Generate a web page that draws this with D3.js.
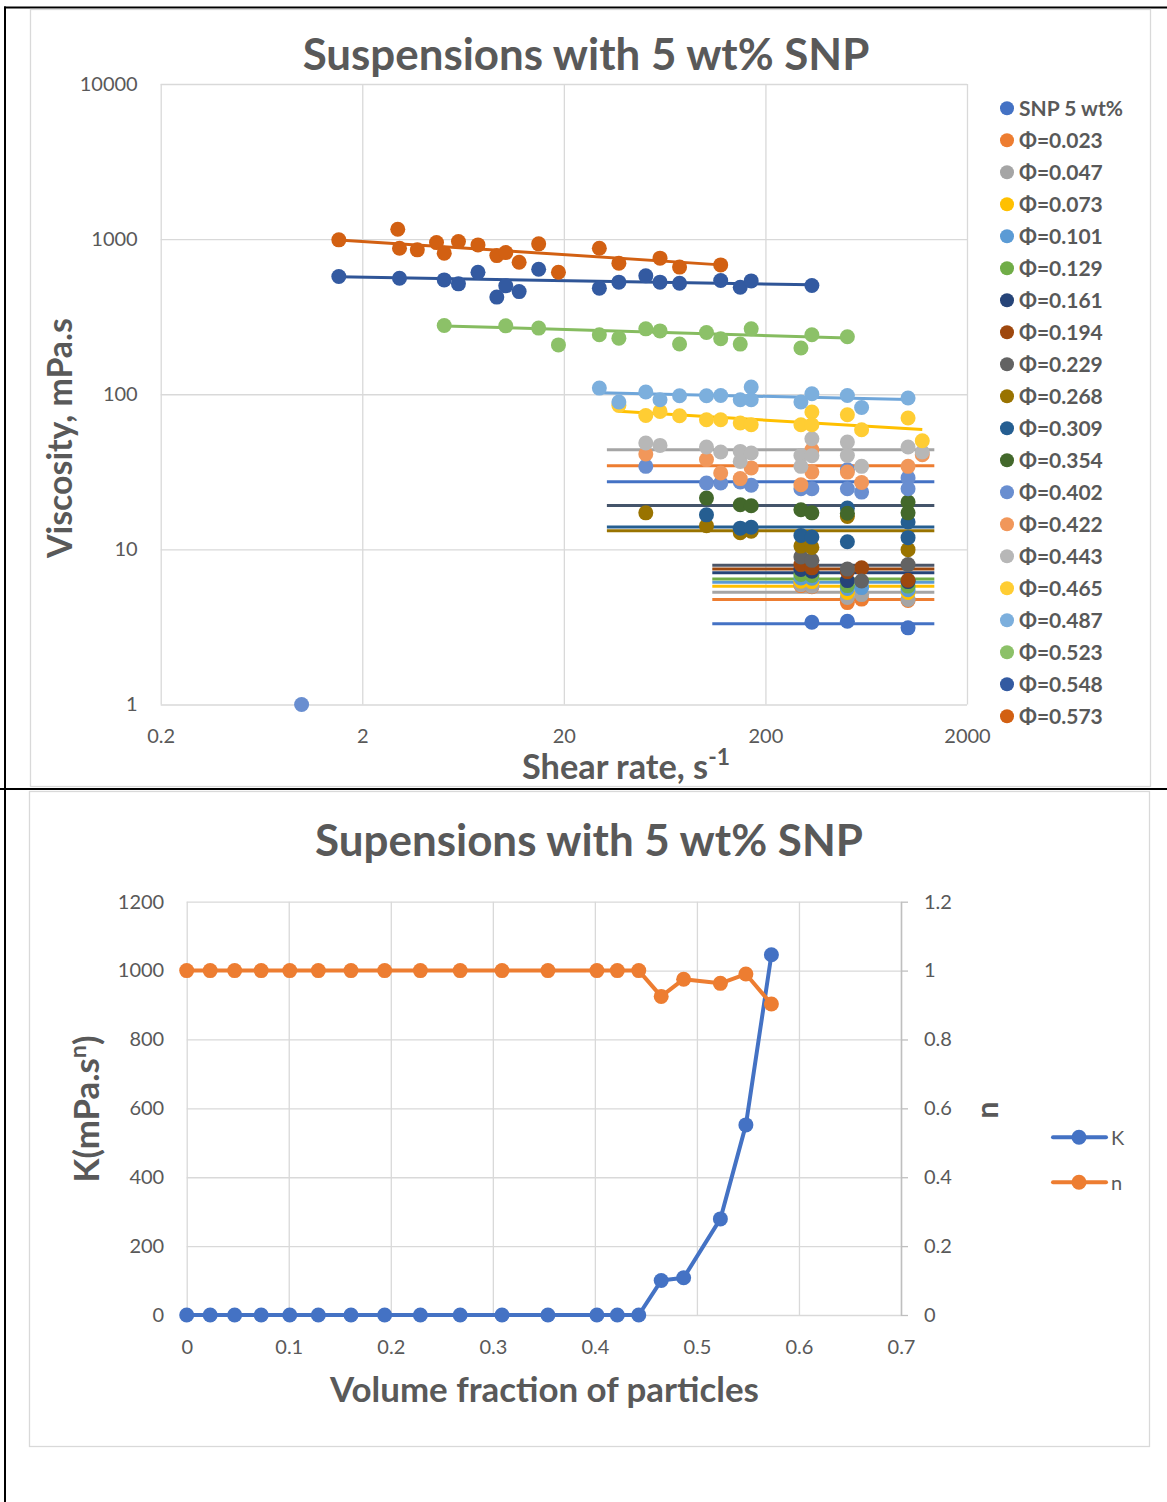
<!DOCTYPE html>
<html>
<head>
<meta charset="utf-8">
<script src="https://cdn.jsdelivr.net/npm/d3@7"></script>
<style>
  body { margin: 0; background: #fff; }
  svg { display: block; }
</style>
</head>
<body>
<svg id="chart" width="1167" height="1502"></svg>
<script>
// ---------------- Viscosity curves: [shear rate (1/s), viscosity (mPa.s)] ----------------
const snp5wt = [[340, 3.39], [510, 3.44], [1020, 3.12]];
const phi023 = [[300, 5.84], [340, 5.75], [510, 4.54], [600, 4.78], [1020, 4.68]];
const phi047 = [[300, 5.93], [340, 5.78], [510, 4.89], [600, 5.11], [1020, 4.75]];
const phi073 = [[300, 6.23], [340, 6.20], [510, 5.27], [1020, 5.27]];
const phi101 = [[300, 6.55], [340, 6.51], [510, 5.59], [600, 5.67], [1020, 5.50]];
const phi129 = [[300, 6.88], [340, 6.78], [510, 5.84], [1020, 5.80]];
const phi161 = [[300, 7.41], [340, 7.22], [510, 6.29], [1020, 6.20]];
const phi194 = [[300, 7.98], [340, 7.60], [510, 7.19], [600, 7.60], [1020, 6.32]];
const phi229 = [[300, 8.94], [340, 8.50], [510, 7.46], [600, 6.25], [1020, 7.98]];
const phi268 = [[51, 17.2], [102, 14.2], [150, 12.8], [170, 13.1], [300, 10.5], [340, 10.3], [510, 16.3], [1020, 9.96]];
const phi309 = [[102, 16.7], [150, 13.7], [170, 13.9], [300, 12.3], [340, 12.0], [510, 18.5], [510, 11.2], [1020, 15.0], [1020, 11.9]];
const phi354 = [[102, 21.4], [150, 19.4], [170, 19.1], [300, 18.0], [340, 17.2], [510, 17.1], [1020, 20.2], [1020, 17.2]];
const phi402 = [[1, 1], [51, 34.3], [102, 26.8], [120, 26.8], [150, 27.2], [170, 25.9], [300, 24.6], [340, 24.6], [510, 32.6], [510, 24.6], [600, 23.4], [1020, 28.9], [1020, 24.6]];
const phi422 = [[51, 41.2], [102, 37.9], [120, 31.1], [150, 28.6], [170, 33.5], [300, 26.1], [340, 43.9], [340, 31.5], [510, 31.5], [600, 27.0], [1020, 34.3], [1200, 40.8]];
const phi443 = [[51, 48.5], [60, 46.8], [102, 45.7], [120, 42.4], [150, 42.8], [150, 36.9], [170, 41.8], [300, 40.3], [300, 34.3], [340, 51.7], [340, 40.1], [510, 49.2], [510, 40.3], [600, 34.3], [1020, 45.7], [1200, 42.4]];
const phi465 = [[37.5, 84.7], [51, 73.0], [60, 77.5], [75, 72.7], [102, 68.5], [120, 68.5], [150, 65.2], [170, 63.6], [300, 63.6], [340, 76.8], [340, 63.6], [510, 73.8], [600, 59.1], [1020, 70.3], [1200, 50.2]];
const phi487 = [[30, 109.6], [37.5, 89.1], [51, 103.3], [60, 92.2], [75, 97.8], [102, 97.8], [120, 98.2], [150, 92.2], [170, 111.3], [170, 92.2], [300, 89.1], [340, 100.7], [510, 98.2], [600, 82.2], [1020, 94.5]];
const phi523 = [[5.1, 277.5], [10.3, 276], [15, 267], [18.8, 208], [30, 242], [37.5, 230], [51, 264], [60, 256], [75, 211], [102, 250], [120, 228], [150, 210.6], [170, 264], [300, 198.5], [340, 242], [510, 235]];
const phi548 = [[1.53, 574], [3.06, 560], [5.1, 546], [6.0, 515], [7.5, 612], [9.3, 423], [10.3, 500], [12, 459], [15, 640], [30, 483], [37.5, 528], [51, 580], [60, 528], [75, 520], [120, 541], [150, 490], [170, 538], [340, 502]];
const phi573 = [[1.53, 989], [3.0, 1159], [3.06, 874], [3.75, 853], [4.67, 950], [5.1, 812], [6.0, 964], [7.5, 918], [9.3, 783], [10.3, 819], [12, 710], [15, 932], [18.8, 612], [30, 874], [37.5, 700], [60, 754], [75, 660], [120, 682]];

const seriesNames = ["SNP 5 wt%", "Φ=0.023", "Φ=0.047", "Φ=0.073", "Φ=0.101", "Φ=0.129", "Φ=0.161",
  "Φ=0.194", "Φ=0.229", "Φ=0.268", "Φ=0.309", "Φ=0.354", "Φ=0.402", "Φ=0.422", "Φ=0.443",
  "Φ=0.465", "Φ=0.487", "Φ=0.523", "Φ=0.548", "Φ=0.573"];
const seriesData = [snp5wt, phi023, phi047, phi073, phi101, phi129, phi161, phi194, phi229, phi268,
  phi309, phi354, phi402, phi422, phi443, phi465, phi487, phi523, phi548, phi573];

// Power-law fits  eta = K * rate^(n-1), drawn over [fitFrom, fitTo]
const fitK    = [3.32, 4.75, 5.29, 5.78, 6.13, 6.45, 7.08, 7.48, 7.89, 13.2, 13.95, 19.2, 27.3, 34.6, 43.9, 102.9, 112.9, 294, 577, 1025];
const fitN    = [1, 1, 1, 1, 1, 1, 1, 1, 1, 1, 1, 1, 1, 1, 1, 0.922, 0.971, 0.961, 0.978, 0.915];
const fitFrom = [109, 109, 109, 109, 109, 109, 109, 109, 109, 32.7, 32.7, 32.7, 32.7, 32.7, 32.7, 37.5, 30, 5.1, 1.53, 1.53];
const fitTo   = [1377, 1377, 1377, 1377, 1377, 1377, 1377, 1377, 1377, 1377, 1377, 1377, 1377, 1377, 1377, 1200, 1020, 510, 340, 120];

const shearTicks = [0.2, 2, 20, 200, 2000];
const shearTickLabels = ["0.2", "2", "20", "200", "2000"];
const viscTicks = [1, 10, 100, 1000, 10000];
const viscTickLabels = ["1", "10", "100", "1000", "10000"];

// ---------------- Power-law parameters vs volume fraction ----------------
const volumeFraction = [0, 0.023, 0.047, 0.073, 0.101, 0.129, 0.161, 0.194, 0.229, 0.268, 0.309, 0.354, 0.402, 0.422, 0.443, 0.465, 0.487, 0.523, 0.548, 0.573];
const consistencyK = [0, 0, 0, 0, 0, 0, 0, 0, 0, 0, 0, 0, 0, 0, 0, 100, 108, 279, 552, 1046];
const flowIndexN = [1, 1, 1, 1, 1, 1, 1, 1, 1, 1, 1, 1, 1, 1, 1, 0.925, 0.975, 0.963, 0.99, 0.903];

const fracTicks = [0, 0.1, 0.2, 0.3, 0.4, 0.5, 0.6, 0.7];
const fracTickLabels = ["0", "0.1", "0.2", "0.3", "0.4", "0.5", "0.6", "0.7"];
const kTicks = [0, 200, 400, 600, 800, 1000, 1200];
const kTickLabels = ["0", "200", "400", "600", "800", "1000", "1200"];
const nTicks = [0, 0.2, 0.4, 0.6, 0.8, 1, 1.2];
const nTickLabels = ["0", "0.2", "0.4", "0.6", "0.8", "1", "1.2"];

// ---------------- Styling ----------------
const FONT = "Lato, 'Open Sans', 'DejaVu Sans', sans-serif";
const TEXT = "#595959";
const GRID = "#d9d9d9";
const markerColors = ["#4472C4", "#ED7D31", "#A5A5A5", "#FFC000", "#5B9BD5", "#70AD47", "#264478", "#9E480E", "#636363", "#997300",
  "#255E91", "#43682B", "#698ED0", "#F1975A", "#B7B7B7", "#FFCD33", "#7CAFDD", "#8CC168", "#335AA1", "#D26012"];
const fitColors = ["#4472C4", "#ED7D31", "#A5A5A5", "#FFC000", "#5B9BD5", "#70AD47", "#264478", "#9E480E", "#4B5567", "#997300",
  "#255E91", "#44546A", "#4472C4", "#ED7D31", "#A5A5A5", "#FFC000", "#6FA6DA", "#86BC60", "#2F5597", "#D26012"];

const svg = d3.select("#chart");
svg.append("rect").attr("width", 1167).attr("height", 1502).attr("fill", "#fff");

// scale a text (and any tspans in it) so that it spans the given width
function fitWidth(sel, width) {
  const k = width / sel.node().getComputedTextLength();
  sel.attr("font-size", parseFloat(sel.attr("font-size")) * k);
  sel.selectAll("tspan").each(function () {
    const t = d3.select(this);
    if (t.attr("font-size")) t.attr("font-size", parseFloat(t.attr("font-size")) * k);
    if (t.attr("dy")) t.attr("dy", parseFloat(t.attr("dy")) * k);
  });
}

// page frame
const frame = svg.append("g").attr("stroke", "#000").attr("stroke-width", 2);
frame.append("line").attr("x1", 4).attr("x2", 1167).attr("y1", 7.5).attr("y2", 7.5);
frame.append("line").attr("x1", 5).attr("x2", 5).attr("y1", 6.5).attr("y2", 1502);
frame.append("line").attr("x1", 0).attr("x2", 1167).attr("y1", 789).attr("y2", 789);

// chart boxes
svg.append("rect").attr("x", 30.5).attr("y", 9.5).attr("width", 1120).attr("height", 777)
  .attr("fill", "none").attr("stroke", GRID).attr("stroke-width", 1.3);
svg.append("rect").attr("x", 29.5).attr("y", 791.5).attr("width", 1120).attr("height", 655)
  .attr("fill", "none").attr("stroke", GRID).attr("stroke-width", 1.3);

// =============== Chart 1: viscosity vs shear rate ===============
const p1 = { left: 160.7, right: 967, top: 84, bottom: 704.5 };
const x1 = d3.scaleLog().domain([0.2, 2000]).range([p1.left, p1.right]);
const y1 = d3.scaleLog().domain([1, 10000]).range([p1.bottom, p1.top]);

function styleAxis(g, size) {
  g.attr("font-family", FONT).attr("font-size", size);
  g.selectAll(".tick line").attr("stroke", GRID).attr("stroke-width", 1.3);
  g.selectAll(".tick text").attr("fill", TEXT);
}

const gx1 = svg.append("g").attr("transform", `translate(0,${p1.bottom})`)
  .call(d3.axisBottom(x1).tickValues(shearTicks).tickFormat((d, i) => shearTickLabels[i])
    .tickSize(-(p1.bottom - p1.top)).tickSizeOuter(0).tickPadding(24));
gx1.select(".domain").remove();
styleAxis(gx1, 20);

const gy1 = svg.append("g").attr("transform", `translate(${p1.left},0)`)
  .call(d3.axisLeft(y1).tickValues(viscTicks).tickFormat((d, i) => viscTickLabels[i])
    .tickSize(-(p1.right - p1.left)).tickSizeOuter(0).tickPadding(23));
gy1.select(".domain").remove();
styleAxis(gy1, 20);

// fitted power-law lines
const fitLine = d3.line().x(d => x1(d[0])).y(d => y1(d[1]));
const fits = seriesNames.map((name, i) => ({
  color: fitColors[i],
  pts: [fitFrom[i], fitTo[i]].map(r => [r, fitK[i] * Math.pow(r, fitN[i] - 1)])
}));
svg.append("g").selectAll("path").data(fits).join("path")
  .attr("d", d => fitLine(d.pts))
  .attr("fill", "none").attr("stroke", d => d.color).attr("stroke-width", 3);

// measured points
seriesData.forEach((pts, i) => {
  svg.append("g").selectAll("circle").data(pts).join("circle")
    .attr("cx", d => x1(d[0])).attr("cy", d => y1(d[1])).attr("r", 7.5)
    .attr("fill", markerColors[i]);
});

// titles
const t1 = svg.append("text").attr("x", 586).attr("y", 70).attr("text-anchor", "middle")
  .attr("font-family", FONT).attr("font-weight", "bold").attr("font-size", 40).attr("fill", TEXT)
  .text("Suspensions with 5 wt% SNP");
fitWidth(t1, 567);

const ty1 = svg.append("text").attr("transform", "translate(72,438) rotate(-90)").attr("text-anchor", "middle")
  .attr("font-family", FONT).attr("font-weight", "bold").attr("font-size", 30).attr("fill", TEXT)
  .text("Viscosity, mPa.s");
fitWidth(ty1, 240);

const tx1 = svg.append("text").attr("x", 626).attr("y", 779).attr("text-anchor", "middle")
  .attr("font-family", FONT).attr("font-weight", "bold").attr("font-size", 30).attr("fill", TEXT);
tx1.append("tspan").text("Shear rate, s");
tx1.append("tspan").attr("dy", -12).attr("font-size", 20).text("-1");
fitWidth(tx1, 208);

// legend
const leg1 = svg.append("g").attr("font-family", FONT).attr("font-weight", "bold").attr("font-size", 21);
const rows = leg1.selectAll("g").data(seriesNames).join("g")
  .attr("transform", (d, i) => `translate(1007,${108.3 + i * 32})`);
rows.append("circle").attr("r", 7).attr("fill", (d, i) => markerColors[i]);
rows.append("text").attr("x", 12).attr("dy", "0.36em").attr("fill", TEXT).text(d => d);

// =============== Chart 2: K and n vs volume fraction ===============
const p2 = { left: 186.7, right: 901, top: 901.7, bottom: 1315 };
const x2 = d3.scaleLinear().domain([0, 0.7]).range([p2.left, p2.right]);
const yK = d3.scaleLinear().domain([0, 1200]).range([p2.bottom, p2.top]);
const yN = d3.scaleLinear().domain([0, 1.2]).range([p2.bottom, p2.top]);

const gx2 = svg.append("g").attr("transform", `translate(0,${p2.bottom})`)
  .call(d3.axisBottom(x2).tickValues(fracTicks).tickFormat((d, i) => fracTickLabels[i])
    .tickSize(-(p2.bottom - p2.top)).tickSizeOuter(0).tickPadding(25));
gx2.select(".domain").remove();
styleAxis(gx2, 20);

const gk = svg.append("g").attr("transform", `translate(${p2.left},0)`)
  .call(d3.axisLeft(yK).tickValues(kTicks).tickFormat((d, i) => kTickLabels[i])
    .tickSize(-(p2.right - p2.left)).tickSizeOuter(0).tickPadding(22.5));
gk.select(".domain").remove();
styleAxis(gk, 20);

const gn = svg.append("g").attr("transform", `translate(${p2.right},0)`)
  .call(d3.axisRight(yN).tickValues(nTicks).tickFormat((d, i) => nTickLabels[i])
    .tickSize(7).tickSizeOuter(0).tickPadding(16));
styleAxis(gn, 20);
gn.select(".domain").attr("stroke", "#bfbfbf").attr("stroke-width", 1.5);
gn.selectAll(".tick line").attr("stroke", "#bfbfbf");

const kSeries = volumeFraction.map((v, i) => [v, consistencyK[i]]);
const nSeries = volumeFraction.map((v, i) => [v, flowIndexN[i]]);

function drawSeries(data, yScale, color) {
  const line = d3.line().x(d => x2(d[0])).y(d => yScale(d[1]));
  svg.append("path").attr("d", line(data)).attr("fill", "none")
    .attr("stroke", color).attr("stroke-width", 4).attr("stroke-linejoin", "round");
  svg.append("g").selectAll("circle").data(data).join("circle")
    .attr("cx", d => x2(d[0])).attr("cy", d => yScale(d[1])).attr("r", 7.5).attr("fill", color);
}
drawSeries(kSeries, yK, "#4472C4");
drawSeries(nSeries, yN, "#ED7D31");

const t2 = svg.append("text").attr("x", 589).attr("y", 856).attr("text-anchor", "middle")
  .attr("font-family", FONT).attr("font-weight", "bold").attr("font-size", 40).attr("fill", TEXT)
  .text("Supensions with 5 wt% SNP");
fitWidth(t2, 548);

const tx2 = svg.append("text").attr("x", 544.5).attr("y", 1402).attr("text-anchor", "middle")
  .attr("font-family", FONT).attr("font-weight", "bold").attr("font-size", 30).attr("fill", TEXT)
  .text("Volume fraction of particles");
fitWidth(tx2, 429);

const tk = svg.append("text").attr("transform", "translate(99,1109) rotate(-90)").attr("text-anchor", "middle")
  .attr("font-family", FONT).attr("font-weight", "bold").attr("font-size", 30).attr("fill", TEXT);
tk.append("tspan").text("K(mPa.s");
tk.append("tspan").attr("dy", -11).attr("font-size", 20).text("n");
tk.append("tspan").attr("dy", 11).text(")");
fitWidth(tk, 147);

svg.append("text").attr("transform", "translate(998,1110) rotate(-90)").attr("text-anchor", "middle")
  .attr("font-family", FONT).attr("font-weight", "bold").attr("font-size", 30).attr("fill", TEXT)
  .text("n");

// legend
const leg2 = svg.append("g").attr("font-family", FONT).attr("font-size", 20);
[["K", "#4472C4", 1137.3], ["n", "#ED7D31", 1182.3]].forEach(([label, color, yy]) => {
  leg2.append("line").attr("x1", 1053).attr("x2", 1106).attr("y1", yy).attr("y2", yy)
    .attr("stroke", color).attr("stroke-width", 4).attr("stroke-linecap", "round");
  leg2.append("circle").attr("cx", 1079).attr("cy", yy).attr("r", 7.5).attr("fill", color);
  leg2.append("text").attr("x", 1111).attr("y", yy).attr("dy", "0.36em").attr("fill", TEXT).text(label);
});
</script>
</body>
</html>
